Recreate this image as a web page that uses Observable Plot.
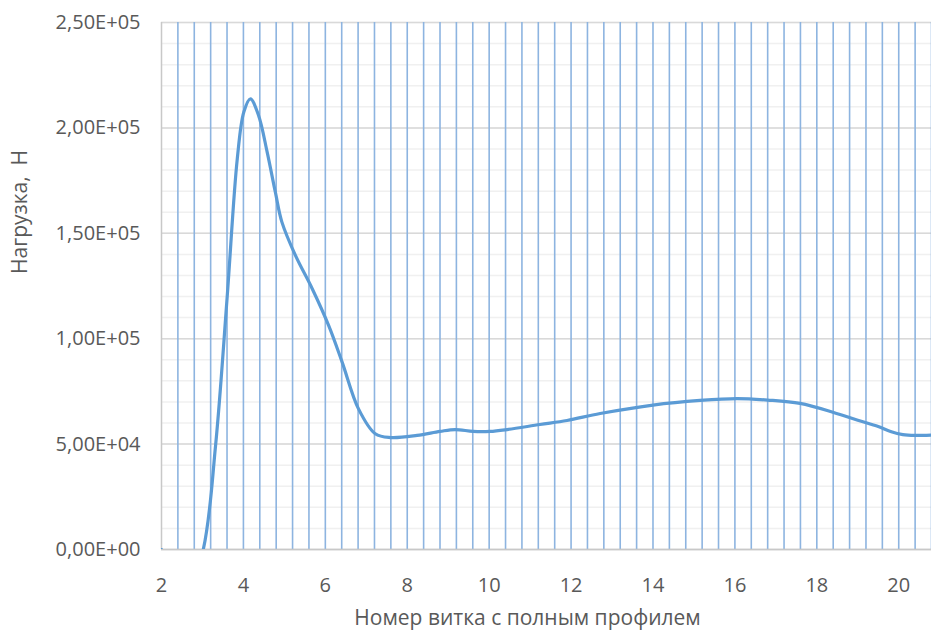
<!DOCTYPE html>
<html>
<head>
<meta charset="utf-8">
<script src="https://cdn.jsdelivr.net/npm/d3@7"></script>
<script src="https://cdn.jsdelivr.net/npm/@observablehq/plot@0.6"></script>
<style>
  html, body { margin: 0; padding: 0; background: #fff; }
  #chart svg { display: block; }
</style>
</head>
<body>
<div id="chart"></div>
<script>
// Turn number (x) and load in N (y)
const turns = [2.0, 2.5, 3.02, 3.32, 3.60, 3.85, 4.01, 4.17, 4.37, 4.58, 4.78, 4.94, 5.27, 5.68, 6.08, 6.41, 6.81, 7.22, 7.59, 8.24, 8.80, 9.17, 9.61, 10.02, 10.44, 11.24, 11.90, 12.71, 14.0, 15.15, 16.05, 16.8, 17.59, 18.41, 19.0, 19.5, 19.8, 20.1, 20.4, 20.8];
const loads = [0, -30000, 0, 49300, 118900, 185300, 207500, 213800, 205900, 188500, 169500, 155300, 139500, 123700, 106300, 88900, 66700, 54900, 53100, 54100, 56000, 56900, 56000, 56000, 56900, 59300, 61200, 64500, 68500, 70700, 71600, 70900, 69300, 65000, 61300, 58300, 56000, 54500, 54100, 54300];

const xTicks = [2, 4, 6, 8, 10, 12, 14, 16, 18, 20];
const yTicks = [0, 50000, 100000, 150000, 200000, 250000];
const yMinor = d3.range(0, 250001, 10000);
const xGrid = d3.range(2.4, 20.81, 0.4).map(v => +v.toFixed(1));

const xLabel = "Номер витка с полным профилем";
const yLabel = "Нагрузка,  Н";

const data = turns.map((t, i) => ({t, v: loads[i]}));

function fmtSci(d) {
  if (d === 0) return "0,00E+00";
  const e = Math.floor(Math.log10(Math.abs(d)));
  const m = d / Math.pow(10, e);
  return m.toFixed(2).replace(".", ",") + "E+" + String(e).padStart(2, "0");
}

const chart = Plot.plot({
  width: 931,
  height: 631,
  marginLeft: 161,
  marginRight: 0,
  marginTop: 22,
  marginBottom: 82,
  style: {fontFamily: "'Open Sans', sans-serif", fontSize: "20px", color: "#595959", background: "#fff"},
  x: {domain: [2, 20.8]},
  y: {domain: [0, 250000]},
  marks: [
    Plot.ruleY(yMinor, {stroke: "#f0f0f0", strokeWidth: 1.5}),
    Plot.ruleY(yTicks, {stroke: "#d9d9d9", strokeWidth: 1.5}),
    Plot.ruleX(xGrid, {stroke: "#8db4e0", strokeWidth: 1.6}),
    Plot.ruleX([2], {stroke: "#c8c8c8", strokeWidth: 1.5}),
    Plot.ruleY([0], {stroke: "#c8c8c8", strokeWidth: 1.5}),
    Plot.line(data, {x: "t", y: "v", curve: "catmull-rom", stroke: "#5b9bd5", strokeWidth: 3.2, clip: true}),
    Plot.axisX(xTicks, {tickSize: 0, tickPadding: 28, fontSize: 20, fill: "#595959", label: null}),
    Plot.axisY(yTicks, {tickSize: 0, tickPadding: 21, fontSize: 20, fill: "#595959", tickFormat: fmtSci, label: null}),
    Plot.text([xLabel], {frameAnchor: "bottom", dx: -19, dy: 75, fontSize: 21, fill: "#595959"}),
    Plot.text([yLabel], {frameAnchor: "left", dx: -141, dy: -12, rotate: -90, fontSize: 21, fill: "#595959"})
  ]
});

document.getElementById("chart").appendChild(chart);
</script>
</body>
</html>
